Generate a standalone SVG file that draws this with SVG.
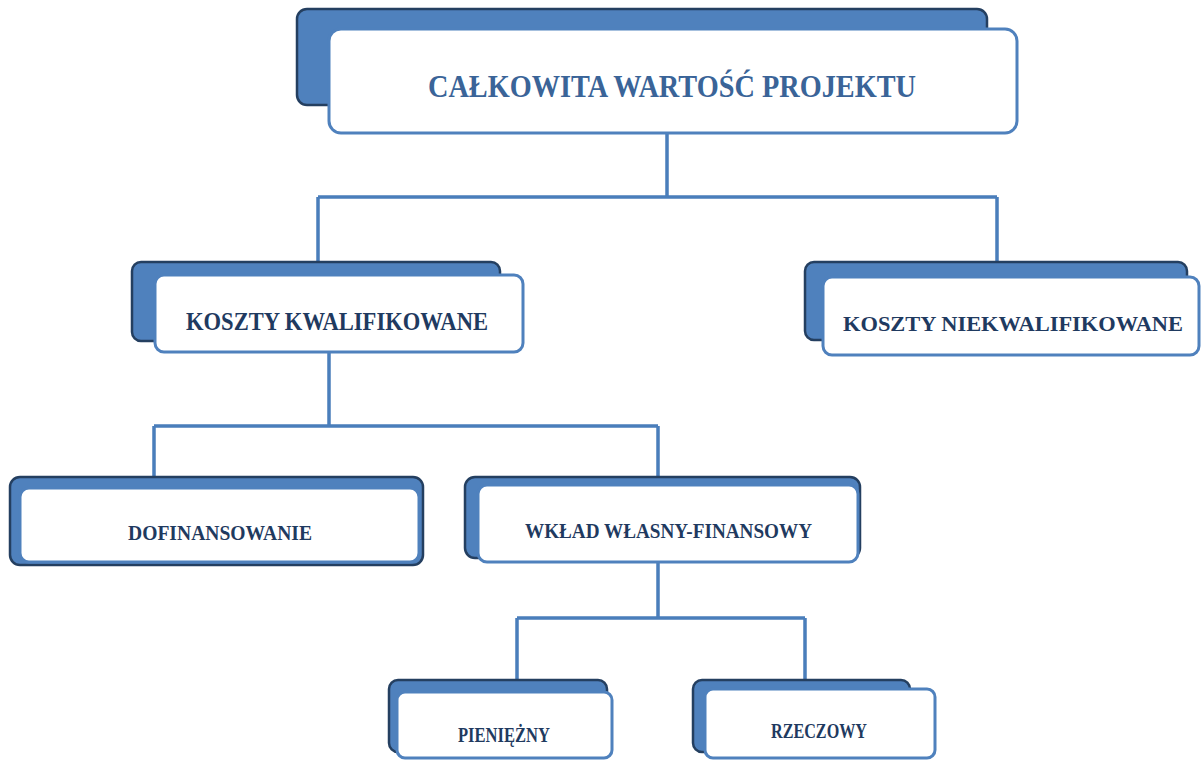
<svg xmlns="http://www.w3.org/2000/svg" width="1203" height="760" viewBox="0 0 1203 760">
<style>
.back{fill:#4f81bd;stroke:#243f60;stroke-width:2.5}
.front{fill:#ffffff;stroke:#4f81bd;stroke-width:3}
.conn{fill:none;stroke:#4a7ebb;stroke-width:3.5}
.t{font-family:"Liberation Serif","DejaVu Serif",serif;font-weight:bold;fill:#1f3a60}
.title{fill:#3a6498}
</style>
<rect width="1203" height="760" fill="#ffffff"/>
<g id="connectors">
<path class="conn" d="M667 133 V197 M318 197 H997 M318 197 V262 M997 197 V262"/>
<path class="conn" d="M329 352 V426 M154 426 H658 M154 426 V477 M658 426 V477"/>
<path class="conn" d="M658 562 V618 M517 618 H805 M517 618 V680 M805 618 V680"/>
</g>
<g id="node-calkowita">
<rect class="back" x="297" y="9" width="690" height="96" rx="10"/>
<rect class="front" x="329" y="29" width="688" height="104" rx="12"/>
<text class="t title" x="428" y="97" font-size="32" textLength="488" lengthAdjust="spacingAndGlyphs">CAŁKOWITA WARTOŚĆ PROJEKTU</text>
</g>
<g id="node-kwalifikowane">
<rect class="back" x="132" y="262" width="368" height="79" rx="9"/>
<rect class="front" x="155" y="275" width="368" height="77" rx="9"/>
<text class="t" x="186" y="330" font-size="25" textLength="302" lengthAdjust="spacingAndGlyphs">KOSZTY KWALIFIKOWANE</text>
</g>
<g id="node-niekwalifikowane">
<rect class="back" x="805" y="262" width="382" height="78" rx="9"/>
<rect class="front" x="823" y="277" width="376" height="78" rx="9"/>
<text class="t" x="843" y="331" font-size="22" textLength="340" lengthAdjust="spacingAndGlyphs">KOSZTY NIEKWALIFIKOWANE</text>
</g>
<g id="node-dofinansowanie">
<rect class="back" x="10" y="477" width="413" height="88" rx="10"/>
<rect class="front" x="20" y="488" width="399" height="74" rx="9"/>
<text class="t" x="128" y="540" font-size="21" textLength="184" lengthAdjust="spacingAndGlyphs">DOFINANSOWANIE</text>
</g>
<g id="node-wklad">
<rect class="back" x="465" y="477" width="395" height="81" rx="10"/>
<rect class="front" x="478" y="485" width="380" height="77" rx="9"/>
<text class="t" x="525" y="538" font-size="21" textLength="287" lengthAdjust="spacingAndGlyphs">WKŁAD WŁASNY-FINANSOWY</text>
</g>
<g id="node-pieniezny">
<rect class="back" x="389" y="680" width="218" height="72" rx="9"/>
<rect class="front" x="397" y="692" width="215" height="66" rx="8"/>
<text class="t" x="458" y="742" font-size="21" textLength="92" lengthAdjust="spacingAndGlyphs">PIENIĘŻNY</text>
</g>
<g id="node-rzeczowy">
<rect class="back" x="693" y="680" width="217" height="72" rx="9"/>
<rect class="front" x="705" y="689" width="230" height="69" rx="8"/>
<text class="t" x="771" y="738" font-size="20" textLength="96" lengthAdjust="spacingAndGlyphs">RZECZOWY</text>
</g>
</svg>
